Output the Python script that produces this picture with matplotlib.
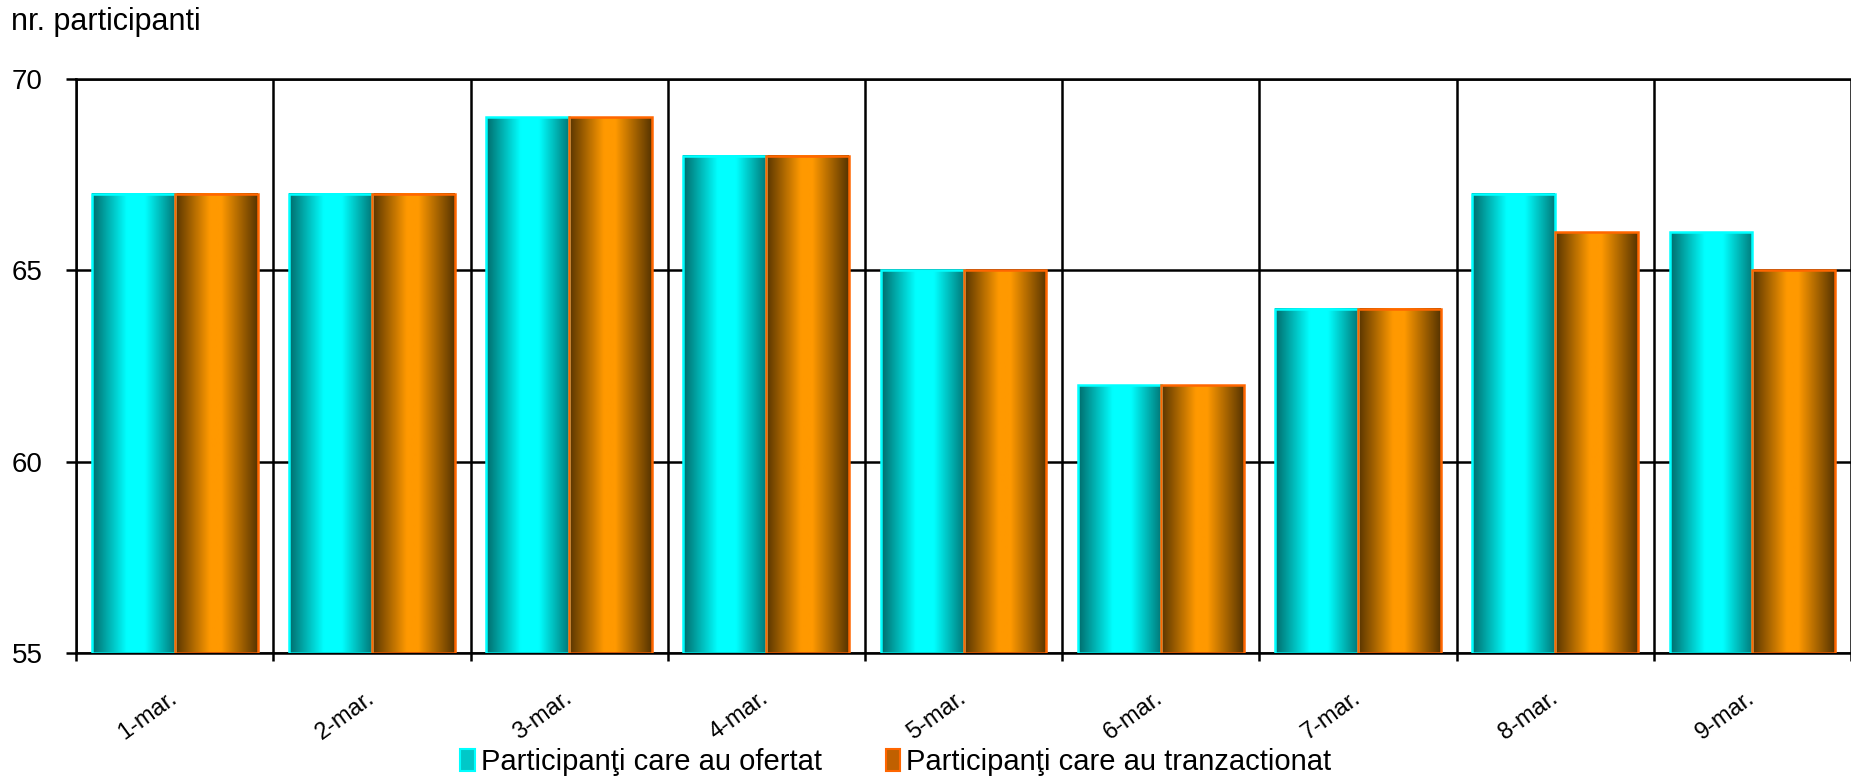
import numpy as np
import matplotlib
matplotlib.use("Agg")
import matplotlib.pyplot as plt
from matplotlib.patches import Patch

plt.rcParams['font.family'] = ['Liberation Sans', 'DejaVu Sans']

# data
days = ["1-mar.", "2-mar.", "3-mar.", "4-mar.", "5-mar.", "6-mar.", "7-mar.", "8-mar.", "9-mar."]
ofertat = [67, 67, 69, 68, 65, 62, 64, 67, 66]
tranzactionat = [67, 67, 69, 68, 65, 62, 64, 66, 65]
series_names = ["Participanţi care au ofertat", "Participanţi care au tranzactionat"]
y_ticks = [55, 60, 65, 70]


def shade(base, stops, levels, n=200):
    # horizontal "cylinder" gradient for one bar
    t = np.linspace(0, 1, n)
    f = np.interp(t, stops, levels)
    rgb = np.array(base)[None, :] * f[:, None]
    return rgb[None, :, :]


cyan_img = shade((0.0, 1.0, 1.0), [0, 0.42, 0.64, 1], [0.42, 1.0, 1.0, 0.48])
orange_img = shade((1.0, 0.6, 0.0), [0, 0.42, 0.56, 1], [0.34, 1.0, 1.0, 0.34])


def main():
    fig = plt.figure(figsize=(18.51, 7.78), dpi=100)
    ax = fig.add_axes([0.0411, 0.1607, 0.9589, 0.7378])

    x = np.arange(len(days))
    w = 0.42
    ymin = y_ticks[0]

    b1 = ax.bar(x - w / 2, np.array(ofertat) - ymin, w, bottom=ymin,
                facecolor='none', edgecolor='#00FFFF', linewidth=1.8, zorder=3)
    b2 = ax.bar(x + w / 2, np.array(tranzactionat) - ymin, w, bottom=ymin,
                facecolor='none', edgecolor='#FF6600', linewidth=1.8, zorder=3)

    for bars, img in ((b1, cyan_img), (b2, orange_img)):
        for r in bars:
            x0, y0 = r.get_x(), r.get_y()
            ax.imshow(img, extent=[x0, x0 + r.get_width(), y0, y0 + r.get_height()],
                      aspect='auto', zorder=2, interpolation='bilinear')

    ax.set_xlim(-0.5, 8.451)
    ax.set_ylim(55, 70)

    ax.set_yticks(y_ticks)
    ax.tick_params(axis='y', direction='out', length=7, width=1.8, pad=17, labelsize=20)

    ax.set_xticks(x)
    ax.set_xticklabels(days, rotation=36, ha='right', va='center', rotation_mode='anchor', fontsize=17)
    ax.tick_params(axis='x', which='major', length=0, pad=31)
    ax.set_xticks(np.arange(len(days) + 1) - 0.5, minor=True)
    ax.tick_params(axis='x', which='minor', direction='out', length=6, width=1.8)

    ax.grid(True, axis='y', which='major', color='black', linewidth=1.8)
    ax.grid(True, axis='x', which='minor', color='black', linewidth=1.8)
    ax.set_axisbelow(True)

    for side in ('left', 'bottom', 'top'):
        ax.spines[side].set_linewidth(1.8)
        ax.spines[side].set_color('black')
    ax.spines['right'].set_visible(False)

    fig.text(0.006, 0.972, "nr. participanti", fontsize=22, ha='left', va='center')

    handles = [Patch(facecolor='#00C8C8', edgecolor='#00FFFF', linewidth=1.5),
               Patch(facecolor='#C06000', edgecolor='#FF6600', linewidth=1.5)]
    fig.legend(handles, series_names, loc='center', bbox_to_anchor=(0.484, 0.02),
               ncol=2, frameon=False, fontsize=21, handlelength=0.5, handleheight=0.8,
               handletextpad=0.2, columnspacing=2.2, borderpad=0)

    fig.savefig("out.png", dpi=100)


if __name__ == '__main__':
    main()
